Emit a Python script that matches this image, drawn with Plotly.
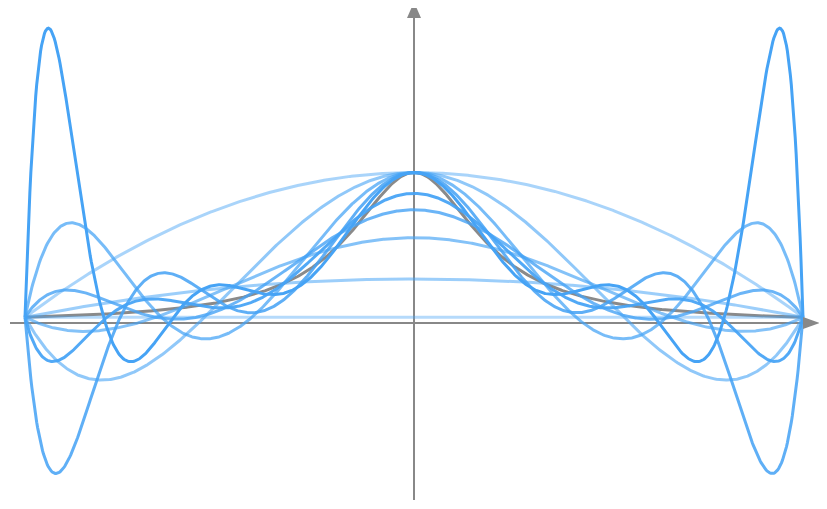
import numpy as np
import plotly.graph_objects as go

# Data: interpolation degrees (equispaced nodes on [-1, 1]) of the Runge function
degrees = [1, 2, 3, 4, 5, 6, 7, 8, 9, 10]
x_min, x_max = -1.0, 1.0
n_samples = 800

def runge(x):
    return 1.0 / (1.0 + 25.0 * x ** 2)

xs = np.linspace(x_min, x_max, n_samples)

fig = go.Figure()

# Runge function (gray)
fig.add_trace(go.Scatter(x=xs, y=runge(xs), mode="lines",
                         line=dict(color="#8a8a8a", width=3),
                         hoverinfo="skip", showlegend=False))

for n in degrees:
    nodes = np.linspace(x_min, x_max, n + 1)
    coef = np.polyfit(nodes, runge(nodes), n)
    ys = np.polyval(coef, xs)
    a = 0.4 + 0.6 * (n - 1) / (len(degrees) - 1)
    fig.add_trace(go.Scatter(x=xs, y=ys, mode="lines",
                             line=dict(color=f"rgba(70,163,245,{a:.3f})", width=3),
                             hoverinfo="skip", showlegend=False))

W, H = 827, 509
OFF = 8  # page offset of the plot inside the browser window
px_per_x = 389.0
x0_px = 414.0 - OFF
px_per_y = 150.5
y0_px = 323.0 - OFF
xr = [(0 - x0_px) / px_per_x, (W - x0_px) / px_per_x]
yr = [-(H - y0_px) / px_per_y, y0_px / px_per_y]

def xpx(p):
    return (p - OFF - x0_px) / px_per_x

def ypx(p):
    return (y0_px - (p - OFF)) / px_per_y

axis_col = "#888888"
shapes = [
    dict(type="line", x0=xpx(10), x1=xpx(806), y0=0, y1=0,
         line=dict(color=axis_col, width=2), layer="below"),
    dict(type="line", x0=0, x1=0, y0=ypx(500), y1=ypx(15),
         line=dict(color=axis_col, width=2), layer="below"),
    dict(type="path", xref="x", yref="y", xsizemode="pixel", ysizemode="pixel",
         xanchor=xpx(820), yanchor=0,
         path="M 0 0 L -17 6 L -17 -6 Z",
         fillcolor=axis_col, line=dict(color=axis_col, width=0)),
    dict(type="path", xref="x", yref="y", xsizemode="pixel", ysizemode="pixel",
         xanchor=0, yanchor=ypx(2),
         path="M 0 0 L -7 -16 L 7 -16 Z",
         fillcolor=axis_col, line=dict(color=axis_col, width=0)),
]

fig.update_layout(
    width=W, height=H,
    margin=dict(l=0, r=0, t=0, b=0),
    paper_bgcolor="white", plot_bgcolor="white",
    xaxis=dict(range=xr, visible=False, fixedrange=True),
    yaxis=dict(range=yr, visible=False, fixedrange=True),
    shapes=shapes,
    showlegend=False,
)

fig.write_html("out.html")
